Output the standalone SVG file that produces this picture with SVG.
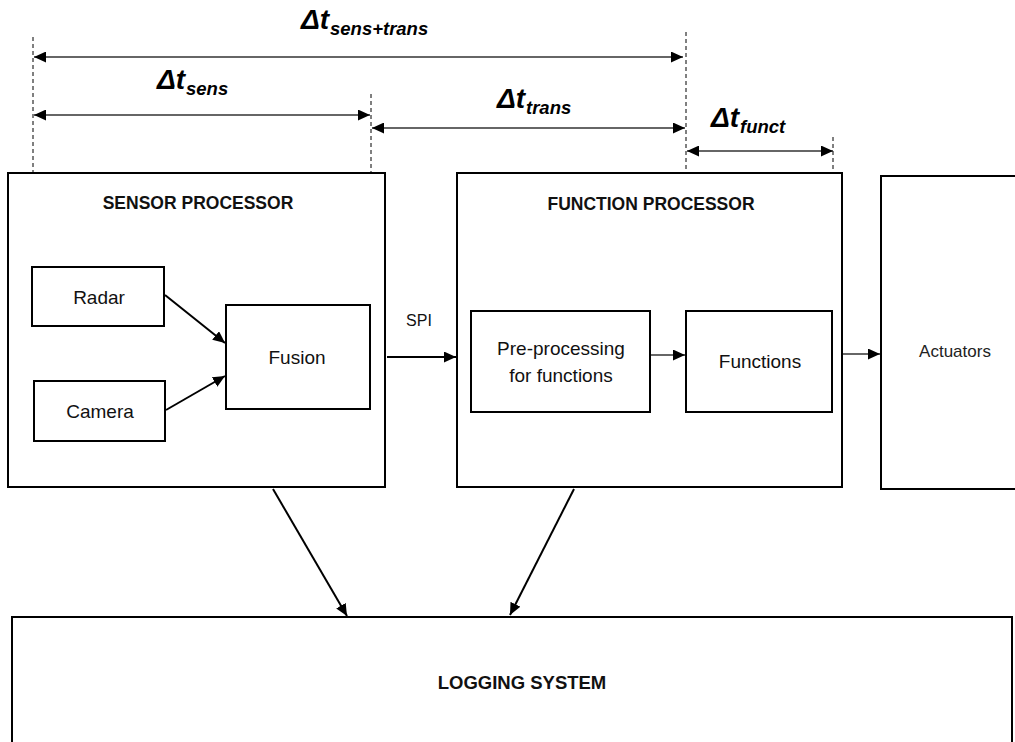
<svg xmlns="http://www.w3.org/2000/svg" width="1015" height="742" viewBox="0 0 1015 742">
  <style>
    .box { fill: #fff; stroke: #000; stroke-width: 2; }
    .lbl { font-family: "Liberation Sans", Arial, sans-serif; font-size: 19px; fill: #111; text-anchor: middle; }
    .hdr { font-family: "Liberation Sans", Arial, sans-serif; font-size: 17.5px; font-weight: bold; fill: #111; text-anchor: middle; }
    .dt { font-family: "Liberation Sans", Arial, sans-serif; font-weight: bold; font-style: italic; font-size: 28px; fill: #000; }
    .sub { font-size: 18.5px; }
    .guide { stroke: #000; stroke-width: 1; stroke-dasharray: 4 3; fill: none; }
    .dim { stroke: #333; stroke-width: 1.4; fill: none; marker-start: url(#head); marker-end: url(#head); }
    .conn { stroke: #000; stroke-width: 2; fill: none; marker-end: url(#head); }
    .thin { stroke: #333; stroke-width: 1.4; fill: none; marker-end: url(#head); }
  </style>
  <defs>
    <marker id="head" markerUnits="userSpaceOnUse" markerWidth="13" markerHeight="11" refX="12" refY="5.5" orient="auto-start-reverse">
      <path d="M0,0 L12,5.5 L0,11 z" fill="#000"/>
    </marker>
  </defs>

  <rect width="1015" height="742" fill="#fff"/>

  <!-- timing guides -->
  <g id="guides">
    <line class="guide" x1="33" y1="37" x2="33" y2="267"/>
    <line class="guide" x1="371" y1="94" x2="371" y2="305"/>
    <line class="guide" x1="686" y1="32" x2="686" y2="311"/>
    <line class="guide" x1="833" y1="137" x2="833" y2="311"/>
  </g>

  <!-- timing intervals -->
  <g id="intervals">
    <line class="dim" x1="34" y1="57" x2="683" y2="57"/>
    <line class="dim" x1="34" y1="115" x2="370" y2="115"/>
    <line class="dim" x1="372" y1="128" x2="685" y2="128"/>
    <line class="dim" x1="687" y1="151" x2="833" y2="151"/>
    <text class="dt" x="301" y="29">Δt<tspan class="sub" x="330" y="35">sens+trans</tspan></text>
    <text class="dt" x="157" y="89">Δt<tspan class="sub" x="186" y="95">sens</tspan></text>
    <text class="dt" x="497" y="108">Δt<tspan class="sub" x="526" y="114">trans</tspan></text>
    <text class="dt" x="711" y="127">Δt<tspan class="sub" x="740" y="133">funct</tspan></text>
  </g>

  <g id="sensor-processor">
    <rect class="box" x="8" y="173" width="377" height="314"/>
    <text class="hdr" x="198" y="209">SENSOR PROCESSOR</text>
  </g>
  <g id="radar">
    <rect class="box" x="32" y="267" width="132" height="59"/>
    <text class="lbl" x="99" y="304">Radar</text>
  </g>
  <g id="camera">
    <rect class="box" x="34" y="381" width="131" height="60"/>
    <text class="lbl" x="100" y="418">Camera</text>
  </g>
  <g id="fusion">
    <rect class="box" x="226" y="305" width="144" height="104"/>
    <text class="lbl" x="297" y="364">Fusion</text>
  </g>

  <g id="function-processor">
    <rect class="box" x="457" y="173" width="385" height="314"/>
    <text class="hdr" x="651" y="210">FUNCTION PROCESSOR</text>
  </g>
  <g id="pre-processing">
    <rect class="box" x="471" y="311" width="179" height="101"/>
    <text class="lbl" x="561" y="355">Pre-processing</text>
    <text class="lbl" x="561" y="382">for functions</text>
  </g>
  <g id="functions">
    <rect class="box" x="686" y="311" width="146" height="101"/>
    <text class="lbl" x="760" y="368">Functions</text>
  </g>

  <g id="actuators">
    <rect class="box" x="881" y="176" width="150" height="313"/>
    <text class="lbl" x="955" y="357" style="font-size:17px;fill:#222">Actuators</text>
  </g>

  <g id="logging-system">
    <rect class="box" x="12" y="617" width="1000" height="140"/>
    <text class="hdr" x="522" y="689" style="font-size:18.5px">LOGGING SYSTEM</text>
  </g>

  <!-- data flow -->
  <g id="connectors">
    <line class="conn" x1="165" y1="295" x2="225" y2="343"/>
    <line class="conn" x1="166" y1="410" x2="225" y2="376"/>
    <line class="conn" x1="387" y1="357" x2="456" y2="357"/>
    <text class="lbl" x="419" y="326" style="font-size:16px">SPI</text>
    <line class="thin" x1="651" y1="355" x2="685" y2="355"/>
    <line class="thin" x1="843" y1="354" x2="880" y2="354"/>
    <line class="conn" x1="273" y1="489" x2="347" y2="616"/>
    <line class="conn" x1="574" y1="489" x2="510" y2="615"/>
  </g>
</svg>
